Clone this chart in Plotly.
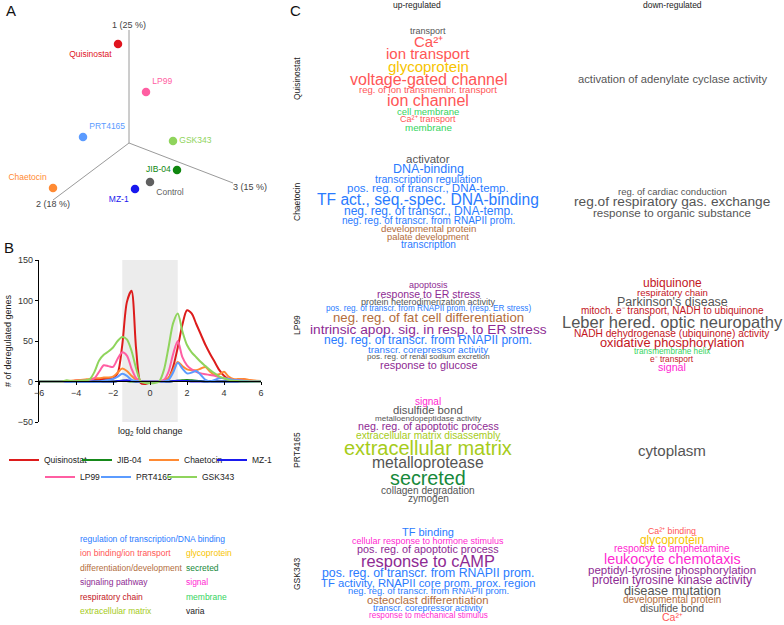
import plotly.graph_objects as go

W, H = 784, 625
FONT = "Liberation Sans, Arial, sans-serif"


def fx(p):
    return p / W


def fy(p):
    return 1 - p / H


# ---------------- Panel A: PCA (projected scores) ----------------
pca_samples = ["Quisinostat", "LP99", "PRT4165", "GSK343", "JIB-04", "Control", "MZ-1", "Chaetocin"]
pca_proj_x = [118, 146, 83, 173, 177, 150, 135, 53]
pca_proj_y = [44, 92, 137, 141, 170, 182, 189, 188]
pca_axis_labels = ["1 (25 %)", "2 (18 %)", "3 (15 %)"]
pca_origin = [129, 143]
pca_axis_end_x = [129, 53, 233]
pca_axis_end_y = [30, 200, 183]

pca_colors = ["#e0141e", "#ff5ea2", "#5b9bff", "#8fd45c", "#10870f", "#606060", "#1818ee", "#ff8a33"]
pca_label_pos = ["bottom left", "top right", "top right", "middle right",
                 "middle left", "bottom right", "bottom left", "top left"]
pca_axis_label_pos = ["top center", "bottom center", "bottom right"]

# ---------------- Panel B: distribution of fold changes ----------------
log2_fc = [-6.0, -5.75, -5.5, -5.25, -5.0, -4.75, -4.5, -4.25, -4.0, -3.75, -3.5, -3.25,
           -3.0, -2.75, -2.5, -2.25, -2.0, -1.75, -1.5, -1.25, -1.0, -0.75, -0.5, -0.25,
           0.0, 0.25, 0.5, 0.75, 1.0, 1.25, 1.5, 1.75, 2.0, 2.25, 2.5, 2.75, 3.0, 3.25,
           3.5, 3.75, 4.0, 4.25, 4.5, 4.75, 5.0, 5.25, 5.5, 5.75, 6.0]
quisinostat = [0, 0, 0, 0, 0, 0, 0.5, 0.5, 1, 1, 1.5, 2, 2, 2.5, 3, 3, 4, 10, 45, 98, 112, 40,
               -2, -3, -1, 0, 0, 1, 4, 18, 42, 70, 88, 84, 71, 58, 45, 34, 24, 14, 7, 3, 2, 2,
               3, 2, 1, 0.5, 0]
jib04 = [0, 0, 0, 0, 0, 0, 0, 0, 0, 0, 0, 0, 0, 0, 0, 0, 0, 0.5, 1, 0.5, 0, 0, 0, 0, 0, 0,
         0, 0, 0, 0.5, 1, 1.5, 2, 1.5, 1, 0.5, 0, 0, 0, 0, 0, 0, 0, 0, 0, 0, 0, 0, 0]
chaetocin = [0, 0, 0, 0, 0, 0, 0.5, 1, 1.5, 2, 2.5, 3, 4, 4, 5, 5, 6, 11, 16, 13, 7, 2, 0, 0,
             0, 0, 0, 0.5, 4, 14, 24, 19, 15, 14, 14, 16, 18, 12, 8, 9, 12, 6, 3, 3, 3, 2.5,
             1.5, 1, 0.5]
mz1 = [0, 0, 0, 0, 0, 0, 0, 0, 0, 0, 0, 0, 0, 0, 0, 0, 0, 0.5, 1, 1.5, 0.5, 0, 0, 0, 0, 0,
       0, 0, 0, 0.5, 1, 0.5, 0.5, 0, 0, 0, 0, 0, 0, 0, 0, 0, 0, 0, 0, 0, 0, 0, 0]
lp99 = [0, 0, 0, 0, 0, 0, 0.5, 0.5, 1, 1, 1.5, 2, 4, 12, 20, 19, 18, 28, 36, 32, 16, 4, 0, 0,
        0, 0, 0, 2, 12, 34, 50, 30, 20, 15, 12, 10, 9, 8, 7, 5, 4, 3, 2, 1.5, 1, 0.5, 0.5,
        0, 0]
prt4165 = [0, 0, 0, 0, 0, 0, 0, 0, 0, 0, 0, 0, 0, 0, 1, 2, 3, 6, 9.5, 7, 2, 0.5, 0, 0, 0, 0,
           0, 0, 2, 11, 23, 16, 10, 11, 13, 8, 2, 0, 2, 4, 4, 3, 2, 1.5, 1, 0.5, 0, 0, 0]
gsk343 = [0, 0, 0, 0, 0, 0, 1.5, 0.5, 0.5, 1, 1.5, 3, 12, 26, 33, 37, 42, 50, 55, 52, 38, 16,
          0, -2, -2, -2, 0, 14, 42, 72, 84, 62, 45, 36, 30, 24, 19, 14, 10, 6, 4, 2, 1, 0.5,
          0, 0, 0, 0, 0]
fc_threshold = [-1.5, 1.5]
y_ticks = [-50, 0, 50, 100, 150]
x_ticks = [-6, -4, -2, 0, 2, 4, 6]

series_names = ["Quisinostat", "JIB-04", "Chaetocin", "MZ-1", "LP99", "PRT4165", "GSK343"]
series_values = [quisinostat, jib04, chaetocin, mz1, lp99, prt4165, gsk343]
series_colors = ["#dd1c1c", "#16891a", "#ff8a33", "#1a1aee", "#ff5ea2", "#5b9bff", "#8fd45c"]

# legend placement (one legend box per entry: left edge px, row centre px)
legend_slot_x = [4, 77, 144, 212, 40, 96, 162]
legend_slot_y = [460, 460, 460, 460, 477, 477, 477]

# ---------------- Panel C: enriched terms (term, category, weight) ----------------
cat_colors = {
    "tx": "#2a7bff", "ion": "#ff5656", "glyco": "#f7c400", "dev": "#b36d3c",
    "secr": "#17893b", "sigpath": "#8e2a93", "signal": "#ff28d2", "resp": "#c3161e",
    "memb": "#35d45e", "ecm": "#a6cc1a", "varia": "#555555",
}
cat_names = {
    "tx": "regulation of transcription/DNA binding", "ion": "ion binding/ion transport",
    "glyco": "glycoprotein", "dev": "differentiation/development", "secr": "secreted",
    "sigpath": "signaling pathway", "signal": "signal", "resp": "respiratory chain",
    "memb": "membrane", "ecm": "extracellular matrix", "varia": "varia",
}
legend_left = ["tx", "ion", "dev", "sigpath", "resp", "ecm"]
legend_right = ["glyco", "secr", "signal", "memb", "varia"]

quis_up = [
    ("transport", "varia", 9), ("Ca²⁺", "ion", 15), ("ion transport", "ion", 15),
    ("glycoprotein", "glyco", 15), ("voltage-gated channel", "ion", 16),
    ("reg. of ion transmembr. transport", "ion", 9.5), ("ion channel", "ion", 16),
    ("cell membrane", "memb", 9.5), ("Ca²⁺ transport", "ion", 9), ("membrane", "memb", 9.8),
]
quis_down = [("activation of adenylate cyclase activity", "varia", 11.2)]
chae_up = [
    ("activator", "varia", 11.5), ("DNA-binding", "tx", 12.5),
    ("transcription regulation", "tx", 10.6), ("pos. reg. of transcr., DNA-temp.", "tx", 11.5),
    ("TF act., seq.-spec. DNA-binding", "tx", 15.6), ("neg. reg. of transcr., DNA-temp.", "tx", 12),
    ("neg. reg. of transcr. from RNAPII prom.", "tx", 10), ("developmental protein", "dev", 9.7),
    ("palate development", "dev", 9.4), ("transcription", "tx", 10.1),
]
chae_down = [
    ("reg. of cardiac conduction", "varia", 9.5), ("reg.of respiratory gas. exchange", "varia", 13.7),
    ("response to organic substance", "varia", 11.6),
]
lp99_up = [
    ("apoptosis", "sigpath", 9), ("response to ER stress", "sigpath", 10.5),
    ("protein heterodimerization activity", "varia", 9),
    ("pos. reg. of transcr. from RNAPII prom. (resp. ER stress)", "tx", 8.2),
    ("neg. reg. of fat cell differentiation", "dev", 13.2),
    ("intrinsic apop. sig. in resp. to ER stress", "sigpath", 13.7),
    ("neg. reg. of transcr. from RNAPII prom.", "tx", 12),
    ("transcr. corepressor activity", "tx", 9.9), ("pos. reg. of renal sodium excretion", "varia", 8),
    ("response to glucose", "sigpath", 10.9),
]
lp99_down = [
    ("ubiquinone", "resp", 12), ("respiratory chain", "resp", 9.6),
    ("Parkinson's disease", "varia", 12.5), ("mitoch. e⁻ transport, NADH to ubiquinone", "resp", 10),
    ("Leber hered. optic neuropathy", "varia", 16.5),
    ("NADH dehydrogenase (ubiquinone) activity", "resp", 10.2),
    ("oxidative phosphorylation", "resp", 12.8), ("transmembrane helix", "memb", 8.2),
    ("e⁻ transport", "resp", 8.4), ("signal", "signal", 10.7),
]
prt_up = [
    ("signal", "signal", 10), ("disulfide bond", "varia", 11.3),
    ("metalloendopeptidase activity", "varia", 8.1), ("neg. reg. of apoptotic process", "sigpath", 10.7),
    ("extracellular matrix disassembly", "ecm", 10.2), ("extracellular matrix", "ecm", 20),
    ("metalloprotease", "varia", 15.7), ("secreted", "secr", 19.8),
    ("collagen degradation", "varia", 10.1), ("zymogen", "varia", 10.1),
]
prt_down = [("cytoplasm", "varia", 15.1)]
gsk_up = [
    ("TF binding", "tx", 11), ("cellular response to hormone stimulus", "signal", 9),
    ("pos. reg. of apoptotic process", "sigpath", 10.8), ("response to cAMP", "sigpath", 16.4),
    ("pos. reg. of transcr. from RNAPII prom.", "tx", 12.3),
    ("TF activity, RNAPII core prom. prox. region", "tx", 11.3),
    ("neg. reg. of transcr. from RNAPII prom.", "tx", 9.3),
    ("osteoclast differentiation", "dev", 11.3), ("transcr. corepressor activity", "tx", 9),
    ("response to mechanical stimulus", "signal", 8.2),
]
gsk_down = [
    ("Ca²⁺ binding", "ion", 8.8), ("glycoprotein", "glyco", 11.9),
    ("response to amphetamine", "signal", 10), ("leukocyte chemotaxis", "signal", 14.3),
    ("peptidyl-tyrosine phosphorylation", "sigpath", 11.5),
    ("protein tyrosine kinase activity", "sigpath", 12), ("disease mutation", "varia", 12.8),
    ("developmental protein", "dev", 10), ("disulfide bond", "varia", 10.4), ("Ca²⁺", "ion", 10.5),
]
cloud_rows = ["Quisinostat", "Chaetocin", "LP99", "PRT4165", "GSK343"]
cloud_up = [quis_up, chae_up, lp99_up, prt_up, gsk_up]
cloud_down = [quis_down, chae_down, lp99_down, prt_down, gsk_down]

# ---------------- layout helpers ----------------
row_centers = [79, 202, 325, 450, 574]
col_centers = [428, 672]
LINE = 0.84

fig = go.Figure()

# Panel A
for ex, ey in zip(pca_axis_end_x, pca_axis_end_y):
    fig.add_trace(go.Scatter(x=[pca_origin[0], ex], y=[pca_origin[1], ey], mode="lines",
                             line=dict(color="#9a9a9a", width=1), xaxis="x2", yaxis="y2",
                             showlegend=False, hoverinfo="skip"))
fig.add_trace(go.Scatter(x=pca_axis_end_x, y=pca_axis_end_y, mode="text", text=pca_axis_labels,
                         textposition=pca_axis_label_pos,
                         textfont=dict(family=FONT, size=9, color="#444444"),
                         xaxis="x2", yaxis="y2", showlegend=False, hoverinfo="skip"))
fig.add_trace(go.Scatter(x=pca_proj_x, y=pca_proj_y, mode="markers+text", text=pca_samples,
                         textposition=pca_label_pos,
                         marker=dict(size=8.5, color=pca_colors),
                         textfont=dict(family=FONT, size=8.5, color=pca_colors),
                         xaxis="x2", yaxis="y2", showlegend=False, hoverinfo="skip"))

# Panel B
legend_layouts = {}
for i, (name, vals, col) in enumerate(zip(series_names, series_values, series_colors)):
    lg = "legend" if i == 0 else f"legend{i + 1}"
    fig.add_trace(go.Scatter(x=log2_fc, y=vals, mode="lines", name=name,
                             line=dict(color=col, width=2, shape="spline", smoothing=0.8),
                             legend=lg))
    legend_layouts[lg] = dict(orientation="h", x=fx(legend_slot_x[i]), y=fy(legend_slot_y[i]),
                              xanchor="left", yanchor="middle",
                              font=dict(size=8.5, color="#222222"), bgcolor="rgba(0,0,0,0)")

fig.add_shape(type="rect", xref="x", yref="y", x0=fc_threshold[0], x1=fc_threshold[1],
              y0=y_ticks[0], y1=y_ticks[-1], fillcolor="#ececec", line=dict(width=0), layer="below")

annotations = []


def add_text(text, x, y, size, color, xanchor="center", angle=0):
    annotations.append(dict(text=text, x=fx(x), y=fy(y), xref="paper", yref="paper",
                            showarrow=False, xanchor=xanchor, yanchor="middle", textangle=angle,
                            font=dict(family=FONT, size=size, color=color)))


add_text("A", 4, 11, 15, "#111111", xanchor="left")
add_text("B", 2, 247, 15, "#111111", xanchor="left")
add_text("C", 288, 11, 15, "#111111", xanchor="left")
add_text("log<sub>2</sub> fold change", 150, 431, 9, "#222222")

# Panel C headers and row labels
add_text("up-regulated", 417, 5, 8.5, "#222222")
add_text("down-regulated", 672, 5, 8.5, "#222222")
for name, rc in zip(cloud_rows, row_centers):
    add_text(name, 297, rc, 8.5, "#222222", angle=-90)

for rc, up, down in zip(row_centers, cloud_up, cloud_down):
    for cx, words in zip(col_centers, (up, down)):
        sizes = [w for _, _, w in words]
        offs = [0.0]
        for a, b in zip(sizes[:-1], sizes[1:]):
            offs.append(offs[-1] + LINE * (a + b) / 2)
        top = rc - offs[-1] / 2
        for (term, cat, w), o in zip(words, offs):
            add_text(term, cx, top + o, w, cat_colors[cat])

# category legend
for i, c in enumerate(legend_left):
    add_text(cat_names[c], 78, 539 + i * 14.4, 8.5, cat_colors[c], xanchor="left")
for i, c in enumerate(legend_right):
    col = "#222222" if c == "varia" else cat_colors[c]
    add_text(cat_names[c], 184, 539 + (i + 1) * 14.4, 8.5, col, xanchor="left")

fig.update_layout(
    width=W, height=H, margin=dict(l=0, r=0, t=0, b=0, autoexpand=False),
    paper_bgcolor="white", plot_bgcolor="white",
    font=dict(family=FONT, size=9, color="#333333"),
    xaxis=dict(domain=[fx(39), fx(261)], range=[-6, 6], anchor="free", position=fy(381),
               showline=True, linecolor="black", linewidth=1.2, tickvals=x_ticks,
               ticks="outside", ticklen=3, tickcolor="black", tickfont=dict(size=9, color="#333333"),
               showgrid=False, zeroline=False, fixedrange=True, automargin=False),
    yaxis=dict(domain=[fy(422), fy(260)], range=[-50, 150], tickvals=y_ticks,
               showline=True, linecolor="black", linewidth=1.2, ticks="outside", ticklen=3,
               tickcolor="black", tickfont=dict(size=9, color="#333333"),
               showgrid=False, zeroline=False, fixedrange=True, automargin=False,
               title=dict(text="# of deregulated genes", font=dict(size=9, color="#222222"), standoff=4)),
    xaxis2=dict(domain=[0, fx(280)], range=[0, 280], visible=False, fixedrange=True),
    yaxis2=dict(domain=[fy(240), 1], range=[240, 0], visible=False, fixedrange=True),
    annotations=annotations,
    showlegend=True,
    **legend_layouts,
)

fig.write_html("out.html", config={"displayModeBar": False},
               post_script="document.body.style.margin='0';")
